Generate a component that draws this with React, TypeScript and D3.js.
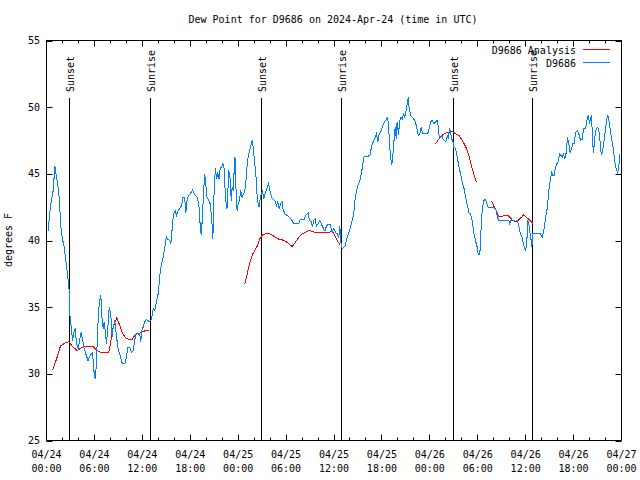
import React from "react";
import * as d3 from "d3";

const TITLE = "Dew Point for D9686 on 2024-Apr-24 (time in UTC)";
const Y_LABEL = "degrees F";
const SERIES_NAMES = ["D9686 Analysis", "D9686"];
const Y_TICKS = [25, 30, 35, 40, 45, 50, 55];

// hours since 2024-04-24 00:00 UTC
const obsHours = [
  0.2, 0.4, 0.6, 0.84, 1.05, 1.17, 1.38, 1.59, 1.8, 2.0, 2.2, 2.42, 2.63, 2.84, 2.92, 3.05, 3.26, 3.42, 3.59, 3.76,
  3.97, 4.17, 4.34, 4.5, 4.72, 4.92, 5.2, 5.5, 5.76, 5.96, 6.09, 6.26, 6.39, 6.6, 6.8, 6.97, 7.1, 7.22, 7.39, 7.5,
  7.68, 7.85, 8.05, 8.22, 8.35, 8.55, 8.77, 8.97, 9.27, 9.5, 9.8, 10.0, 10.2, 10.4, 10.65, 10.85, 11.06, 11.27, 11.48, 11.7,
  11.8, 11.95, 12.1, 12.3, 12.5, 12.7, 12.9, 13.15, 13.36, 13.56, 13.77, 13.98, 14.2, 14.4, 14.6, 14.8, 15.0, 15.2, 15.45, 15.57,
  15.74, 15.9, 16.1, 16.28, 16.5, 16.7, 16.9, 17.1, 17.3, 17.45, 17.6, 17.8, 18.0, 18.3, 18.6, 18.87, 19.07, 19.2, 19.37, 19.5,
  19.6, 19.8, 19.9, 20.1, 20.3, 20.5, 20.7, 20.83, 21.0, 21.16, 21.3, 21.45, 21.6, 21.75, 21.9, 22.08, 22.25, 22.4, 22.6, 22.7,
  22.83, 23.0, 23.13, 23.25, 23.37, 23.5, 23.6, 23.75, 23.87, 24.0, 24.17, 24.3, 24.5, 24.67, 24.8, 25.0, 25.17, 25.33, 25.55, 25.75,
  25.9, 26.0, 26.17, 26.3, 26.4, 26.6, 26.7, 26.9, 27.05, 27.2, 27.4, 27.6, 27.8, 27.96, 28.17, 28.4, 28.6, 28.8, 28.96, 29.14,
  29.3, 29.5, 29.6, 29.85, 30.1, 30.4, 30.7, 30.9, 31.27, 31.6, 31.8, 32.0, 32.26, 32.5, 32.77, 32.93, 33.14, 33.3, 33.47, 33.64,
  33.8, 34.0, 34.2, 34.4, 34.6, 34.8, 34.9, 35.06, 35.27, 35.5, 35.77, 35.97, 36.2, 36.4, 36.6, 36.73, 36.85, 37.03, 37.2, 37.4,
  37.65, 37.85, 38.07, 38.28, 38.48, 38.6, 38.78, 38.98, 39.2, 39.4, 39.6, 39.7, 39.98, 40.2, 40.5, 40.66, 40.8, 41.0, 41.16, 41.3,
  41.5, 41.66, 41.8, 42.0, 42.2, 42.45, 42.66, 42.8, 42.95, 43.07, 43.24, 43.37, 43.5, 43.66, 43.8, 43.9, 44.08, 44.2, 44.37, 44.55,
  44.7, 44.87, 45.04, 45.2, 45.3, 45.4, 45.58, 45.8, 46.0, 46.2, 46.37, 46.55, 46.75, 46.93, 47.1, 47.33, 47.58, 47.8, 47.96, 48.1,
  48.3, 48.5, 48.7, 48.9, 49.05, 49.17, 49.3, 49.5, 49.67, 49.84, 50.0, 50.2, 50.3, 50.46, 50.6, 50.75, 50.88, 51.0, 51.2, 51.43,
  51.63, 51.84, 52.05, 52.25, 52.43, 52.6, 52.75, 52.93, 53.1, 53.3, 53.5, 53.72, 53.93, 54.05, 54.26, 54.38, 54.55, 54.76, 54.97, 55.14,
  55.3, 55.56, 55.8, 56.06, 56.3, 56.47, 56.64, 57.06, 57.47, 57.9, 58.0, 58.14, 58.5, 58.7, 58.94, 59.06, 59.2, 59.35, 59.56, 59.7,
  59.85, 60.0, 60.15, 60.27, 60.4, 60.5, 60.64, 60.77, 60.9, 61.0, 61.45, 61.86, 62.07, 62.27, 62.4, 62.57, 62.73, 62.9, 63.07, 63.24,
  63.4, 63.57, 63.74, 63.9, 64.07, 64.24, 64.4, 64.57, 64.74, 64.9, 65.08, 65.24, 65.4, 65.57, 65.74, 65.9, 66.08, 66.24, 66.45, 66.66,
  66.87, 67.07, 67.27, 67.5, 67.66, 67.83, 68.0, 68.1, 68.24, 68.4, 68.5, 68.65, 68.8, 68.97, 69.14, 69.3, 69.47, 69.64, 69.8, 69.98,
  70.14, 70.3, 70.46, 70.66, 70.84, 71.0, 71.16, 71.34, 71.5, 71.6, 71.74, 71.8,
];
const obsValues = [
  40.75, 42.0, 43.0, 43.75, 45.6, 45.1, 44.3, 43.25, 41.0, 40.1, 39.6, 38.5, 37.5, 36.25, 34.5, 33.75, 32.5, 33.1, 33.4, 32.25,
  31.9, 32.6, 33.1, 32.6, 31.9, 31.5, 31.0, 31.4, 31.6, 30.1, 29.6, 30.75, 33.25, 35.25, 35.9, 34.0, 33.4, 33.9, 33.1, 32.25,
  33.5, 35.0, 34.5, 32.75, 33.5, 34.0, 32.75, 31.9, 31.25, 30.75, 30.75, 31.25, 32.0, 32.0, 31.6, 31.75, 32.6, 33.0, 33.0, 32.9,
  32.4, 33.25, 33.5, 33.9, 34.1, 34.0, 33.9, 34.1, 34.9, 34.75, 35.4, 36.0, 37.4, 38.25, 38.75, 39.4, 40.3, 40.1, 40.0, 39.75,
  40.9, 42.0, 42.25, 41.9, 42.25, 42.4, 42.6, 43.25, 43.25, 42.1, 43.0, 43.4, 43.5, 43.8, 43.4, 43.25, 42.75, 41.5, 40.4, 41.5,
  42.75, 45.0, 44.5, 43.25, 43.0, 42.75, 41.5, 40.1, 44.0, 45.4, 44.6, 45.1, 44.6, 45.4, 45.5, 45.75, 45.4, 43.25, 42.4, 43.6,
  45.25, 44.6, 43.0, 44.0, 43.75, 45.25, 46.25, 43.5, 42.2, 42.75, 43.0, 43.75, 43.25, 43.5, 43.6, 44.6, 46.0, 46.5, 47.0, 47.5,
  46.9, 46.25, 45.25, 44.25, 43.0, 42.5, 42.9, 43.5, 43.75, 43.1, 43.6, 43.9, 44.25, 43.75, 43.25, 43.1, 43.0, 42.6, 42.9, 42.4,
  42.75, 42.9, 42.4, 42.0, 41.9, 41.75, 41.55, 41.3, 41.25, 41.3, 41.6, 41.55, 41.6, 41.9, 42.05, 41.5, 41.4, 41.0, 41.5, 41.6,
  41.1, 41.25, 41.5, 41.25, 41.0, 40.75, 40.75, 41.1, 41.2, 41.2, 40.6, 40.9, 40.6, 40.5, 40.25, 41.1, 39.9, 39.4, 39.5, 39.6,
  40.25, 40.6, 41.0, 41.5, 42.0, 42.9, 43.6, 44.1, 44.4, 45.0, 45.6, 46.25, 46.3, 46.3, 46.4, 46.9, 47.25, 47.5, 47.75, 48.0,
  47.4, 48.0, 48.1, 48.4, 48.75, 49.0, 49.2, 48.9, 47.4, 46.25, 45.7, 46.4, 47.4, 48.5, 47.6, 48.9, 47.9, 48.9, 49.25, 49.1,
  49.5, 49.25, 49.75, 50.4, 50.75, 50.0, 49.4, 49.25, 49.1, 48.9, 48.4, 47.9, 48.0, 48.5, 48.0, 48.0, 48.0, 48.1, 48.5, 48.9,
  49.0, 48.75, 48.9, 49.0, 48.6, 47.75, 47.75, 47.9, 47.6, 47.5, 47.4, 47.9, 47.6, 48.4, 48.1, 47.6, 47.5, 47.0, 46.9, 46.25,
  45.6, 45.0, 44.4, 44.0, 43.4, 42.9, 42.5, 42.0, 42.0, 41.5, 40.6, 40.0, 39.5, 38.95, 38.95, 40.5, 42.25, 43.0, 43.1, 42.75,
  42.5, 42.5, 42.45, 42.5, 42.25, 41.75, 41.5, 41.5, 41.5, 41.5, 41.25, 41.5, 41.5, 41.45, 41.5, 41.25, 40.9, 40.5, 40.25, 39.75,
  39.5, 39.25, 40.0, 41.5, 41.25, 40.75, 40.25, 39.5, 40.5, 40.5, 40.5, 40.5, 40.25, 40.75, 41.25, 42.0, 42.5, 43.75, 44.5, 45.1,
  44.9, 44.9, 45.5, 45.75, 45.9, 46.5, 46.4, 46.25, 46.5, 46.1, 46.6, 47.75, 47.25, 46.6, 46.9, 47.25, 47.25, 48.1, 48.25, 48.0,
  47.5, 47.6, 48.4, 48.4, 49.0, 49.4, 48.75, 49.1, 49.4, 47.25, 46.6, 47.75, 48.25, 48.5, 48.4, 47.5, 46.4, 46.75, 47.4, 48.25,
  49.1, 49.4, 48.9, 48.0, 47.4, 46.75, 45.9, 45.4, 45.1, 45.25, 46.0, 46.5,
];

// analysis series; null marks a gap
const anaHours = [
  0.79, 1.05, 1.25, 1.46, 1.75, 2.3, 2.8, 3.34, 3.84, 4.38, 4.92, 5.43, 5.84, 6.26, 6.76, 7.3, 7.8, 8.14, 8.35, 8.6,
  8.8, 9.0, 9.27, 9.5, 9.9, 10.2, 10.77, 11.06, 11.35, 11.7, 12.2, 12.5, 12.9, 18.0,
  24.83, 25.13, 25.42, 25.75, 26.08, 26.4, 26.67, 27.0, 27.4, 27.84, 28.26, 28.67, 29.1, 29.5, 29.93, 30.34, 30.76, 31.2, 31.6, 32.0,
  32.43, 32.85, 33.27, 33.7, 34.1, 34.5, 34.94, 35.35, 35.77, 36.0, 36.4, 36.73, 42.0,
  48.7, 49.13, 49.55, 49.96, 50.4, 50.8, 51.2, 51.63, 51.97, 52.26, 52.6, 52.88, 53.1, 53.3, 53.5, 53.8, 54.8,
  55.72, 56.0, 56.3, 56.64, 57.06, 57.35, 57.77, 58.0, 58.3, 58.7, 58.94, 59.1, 59.5, 59.77, 60.07, 60.4, 60.73, 60.9,
];
const anaValues: (number | null)[] = [
  30.3, 30.75, 31.1, 31.5, 32.1, 32.3, 32.4, 32.0, 31.75, 31.95, 32.05, 32.05, 32.05, 31.8, 31.6, 31.6, 31.6, 32.75, 33.5, 33.9,
  34.2, 33.9, 33.5, 33.05, 32.7, 32.6, 32.6, 32.9, 33.05, 33.05, 33.2, 33.25, 33.3, null,
  36.75, 37.5, 38.25, 38.9, 39.25, 39.6, 40.1, 40.4, 40.5, 40.55, 40.4, 40.25, 40.1, 40.05, 39.95, 39.75, 39.55, 39.9, 40.25, 40.5,
  40.6, 40.75, 40.7, 40.6, 40.6, 40.6, 40.6, 40.6, 40.7, 40.5, 40.0, 39.7, null,
  47.25, 47.6, 47.9, 48.05, 48.1, 48.2, 48.0, 47.9, 47.6, 47.3, 46.9, 46.4, 45.9, 45.4, 45.0, 44.4, null,
  42.95, 42.6, 42.25, 41.8, 41.8, 41.9, 41.9, 41.75, 41.55, 41.4, 41.4, 41.55, 41.75, 41.95, 41.75, 41.6, 41.4, 41.3,
];

const sunLabels = ["Sunset", "Sunrise", "Sunset", "Sunrise", "Sunset", "Sunrise"];
const sunHours = [2.9, 12.96, 26.88, 36.98, 50.93, 60.9];

const FONT = "'DejaVu Sans Mono', monospace";
const BLUE = "#0080ff";
const RED = "#ff0000";

const START = Date.UTC(2024, 3, 24, 0, 0);
const END = Date.UTC(2024, 3, 27, 0, 0);
const H = 3600 * 1000;

export default function App() {
  const left = 46.5, right = 621.5, top = 40.5, bottom = 440.5;
  const x = d3.scaleUtc().domain([new Date(START), new Date(END)]).range([left, right]);
  const y = d3.scaleLinear().domain([25, 55]).range([bottom, top]);
  const tx = (h: number) => x(new Date(START + h * H));

  const majorTicks = x.ticks(d3.utcHour.every(6)!);
  const minorTicks = x.ticks(d3.utcHour.every(2)!);
  const fmtDay = d3.utcFormat("%m/%d");
  const fmtTime = d3.utcFormat("%H:%M");

  const obs = obsHours.map((h, i) => [h, obsValues[i]] as [number, number]);
  const ana = anaHours.map((h, i) => [h, anaValues[i]] as [number, number | null]);

  const lineObs = d3.line<[number, number]>().x((d) => tx(d[0])).y((d) => y(d[1]));
  const lineAna = d3
    .line<[number, number | null]>()
    .defined((d) => d[1] !== null)
    .x((d) => tx(d[0]))
    .y((d) => y(d[1] as number));

  return (
    <svg width={640} height={480} style={{ position: "absolute", left: 0, top: 0, background: "#fff" }} fontFamily={FONT} fontSize={10}>
      <rect x={0} y={0} width={640} height={480} fill="#fff" />
      <text x={333} y={23} textAnchor="middle">{TITLE}</text>

      {/* y ticks */}
      {Y_TICKS.map((t) => (
        <g key={"y" + t}>
          <line x1={left} x2={left + 6} y1={Math.round(y(t)) + 0.5} y2={Math.round(y(t)) + 0.5} stroke="#000" />
          <line x1={right - 6} x2={right} y1={Math.round(y(t)) + 0.5} y2={Math.round(y(t)) + 0.5} stroke="#000" />
          <text x={40} y={y(t) + 3.5} textAnchor="end">{t}</text>
        </g>
      ))}

      {/* x minor ticks */}
      {minorTicks.map((d, i) => {
        const px = Math.round(x(d) - 0.5) + 0.5;
        return (
          <g key={"m" + i}>
            <line x1={px} x2={px} y1={bottom} y2={bottom - 3} stroke="#000" />
            <line x1={px} x2={px} y1={top} y2={top + 3} stroke="#000" />
          </g>
        );
      })}
      {majorTicks.map((d, i) => {
        const px = Math.round(x(d) - 0.5) + 0.5;
        return (
          <g key={"M" + i}>
            <line x1={px} x2={px} y1={bottom} y2={bottom - 6} stroke="#000" />
            <line x1={px} x2={px} y1={top} y2={top + 6} stroke="#000" />
            <text x={x(d)} y={457.5} textAnchor="middle">{fmtDay(d)}</text>
            <text x={x(d)} y={472} textAnchor="middle">{fmtTime(d)}</text>
          </g>
        );
      })}

      <text transform="translate(12,240) rotate(-90)" textAnchor="middle">{Y_LABEL}</text>

      {/* sunrise / sunset */}
      {sunHours.map((h, i) => {
        const px = Math.round(tx(h) - 0.5) + 0.5;
        return (
          <g key={"s" + i}>
            <line x1={px} x2={px} y1={98} y2={bottom} stroke="#000" />
            <text transform={`translate(${px + 4},92) rotate(-90)`} textAnchor="start">{sunLabels[i]}</text>
          </g>
        );
      })}

      <path d={lineAna(ana) || ""} fill="none" stroke={RED} strokeWidth={1} shapeRendering="crispEdges" />
      <path d={lineObs(obs) || ""} fill="none" stroke={BLUE} strokeWidth={1} shapeRendering="crispEdges" />

      {/* legend */}
      <text x={576} y={53.5} textAnchor="end">{SERIES_NAMES[0]}</text>
      <line x1={583} x2={610} y1={49.5} y2={49.5} stroke={RED} />
      <text x={576} y={66.5} textAnchor="end">{SERIES_NAMES[1]}</text>
      <line x1={583} x2={610} y1={62.5} y2={62.5} stroke={BLUE} />

      <rect x={left} y={top} width={right - left} height={bottom - top} fill="none" stroke="#000" />
    </svg>
  );
}
